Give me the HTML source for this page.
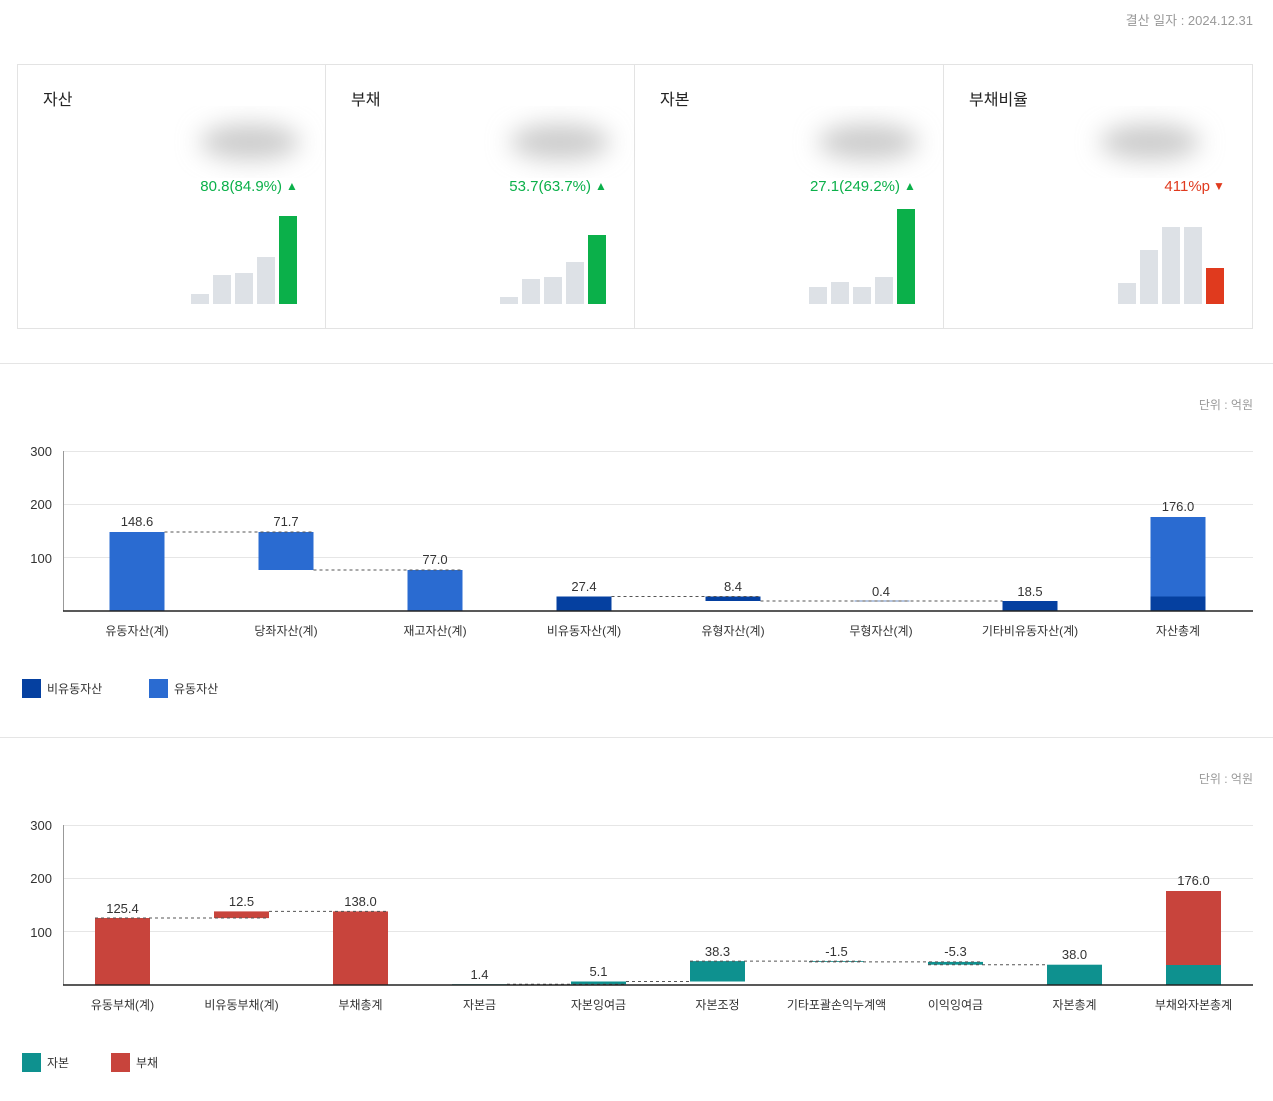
<!DOCTYPE html>
<html><head><meta charset="utf-8"><style>
body{margin:0;background:#fff;width:1273px;height:1096px;overflow:hidden;font-family:"Liberation Sans","Noto Sans CJK KR",sans-serif;}
svg text{font-family:"Liberation Sans","Noto Sans CJK KR",sans-serif;}
</style></head><body>
<svg width="1273" height="1096" viewBox="0 0 1273 1096" xmlns="http://www.w3.org/2000/svg">
<defs><filter id="b" x="-50%" y="-50%" width="200%" height="200%"><feGaussianBlur stdDeviation="12"/></filter></defs>
<text x="1253" y="25" font-size="13" fill="#999" text-anchor="end">결산 일자 : 2024.12.31</text>
<!-- cards -->
<rect x="17.5" y="64.5" width="1235" height="264" fill="none" stroke="#e3e3e3"/>
<line x1="325.5" y1="64" x2="325.5" y2="328" stroke="#e3e3e3"/>
<line x1="634.5" y1="64" x2="634.5" y2="328" stroke="#e3e3e3"/>
<line x1="943.5" y1="64" x2="943.5" y2="328" stroke="#e3e3e3"/>
<g font-size="16" fill="#222">
<text x="43" y="105">자산</text><text x="351" y="105">부채</text><text x="660" y="105">자본</text><text x="969" y="105">부채비율</text></g>
<g fill="#ccc" filter="url(#b)">
<ellipse cx="250" cy="142" rx="50" ry="18"/><ellipse cx="560" cy="142" rx="50" ry="18"/><ellipse cx="868" cy="142" rx="50" ry="18"/><ellipse cx="1150" cy="142" rx="50" ry="18"/></g>
<g font-size="15">
<text x="282" y="191" fill="#0bb04a" text-anchor="end">80.8(84.9%)</text><text x="292" y="190" fill="#0bb04a" text-anchor="middle" font-size="12">▲</text>
<text x="591" y="191" fill="#0bb04a" text-anchor="end">53.7(63.7%)</text><text x="601" y="190" fill="#0bb04a" text-anchor="middle" font-size="12">▲</text>
<text x="900" y="191" fill="#0bb04a" text-anchor="end">27.1(249.2%)</text><text x="910" y="190" fill="#0bb04a" text-anchor="middle" font-size="12">▲</text>
<text x="1210" y="191" fill="#e03a1e" text-anchor="end">411%p</text><text x="1219" y="190" fill="#e03a1e" text-anchor="middle" font-size="12">▼</text>
</g>
<g fill="#dde1e6">
<rect x="191" y="294" width="18" height="10"/><rect x="213" y="275" width="18" height="29"/><rect x="235" y="273" width="18" height="31"/><rect x="257" y="257" width="18" height="47"/>
<rect x="500" y="297" width="18" height="7"/><rect x="522" y="279" width="18" height="25"/><rect x="544" y="277" width="18" height="27"/><rect x="566" y="262" width="18" height="42"/>
<rect x="809" y="287" width="18" height="17"/><rect x="831" y="282" width="18" height="22"/><rect x="853" y="287" width="18" height="17"/><rect x="875" y="277" width="18" height="27"/>
<rect x="1118" y="283" width="18" height="21"/><rect x="1140" y="250" width="18" height="54"/><rect x="1162" y="227" width="18" height="77"/><rect x="1184" y="227" width="18" height="77"/>
</g>
<rect x="279" y="216" width="18" height="88" fill="#0bb04a"/>
<rect x="588" y="235" width="18" height="69" fill="#0bb04a"/>
<rect x="897" y="209" width="18" height="95" fill="#0bb04a"/>
<rect x="1206" y="268" width="18" height="36" fill="#e03a1e"/>
<line x1="0" y1="363.5" x2="1273" y2="363.5" stroke="#e5e5e5"/>
<line x1="0" y1="737.5" x2="1273" y2="737.5" stroke="#e5e5e5"/>

<!-- chart 1 -->
<text x="1253" y="409" font-size="12" fill="#999" text-anchor="end">단위 : 억원</text>
<g stroke="#e6e6e6"><line x1="63" y1="451.5" x2="1253" y2="451.5"/><line x1="63" y1="504.5" x2="1253" y2="504.5"/><line x1="63" y1="557.5" x2="1253" y2="557.5"/></g>
<line x1="63.5" y1="451" x2="63.5" y2="611" stroke="#999"/>
<g font-size="13" fill="#333" text-anchor="end"><text x="52" y="456">300</text><text x="52" y="509">200</text><text x="52" y="563">100</text></g>
<g fill="#2a6bd1">
<rect x="109.5" y="532" width="55" height="79"/>
<rect x="258.5" y="532" width="55" height="38"/>
<rect x="407.5" y="570" width="55" height="41"/>
<rect x="1150.5" y="517" width="55" height="79.5"/>
</g>
<g fill="#0540a0">
<rect x="556.5" y="596.5" width="55" height="14.5"/>
<rect x="705.5" y="596.5" width="55" height="4.5"/>
<rect x="854.5" y="600.7" width="55" height="0.6"/>
<rect x="1002.5" y="601" width="55" height="10"/>
<rect x="1150.5" y="596.5" width="55" height="14.5"/>
</g>
<g stroke="#555" stroke-dasharray="3,3" fill="none">
<line x1="164.5" y1="532" x2="313.5" y2="532"/><line x1="313.5" y1="570" x2="462.5" y2="570"/><line x1="462.5" y1="611" x2="556.5" y2="611"/>
<line x1="611.5" y1="596.5" x2="760.5" y2="596.5"/><line x1="760.5" y1="601" x2="1002.5" y2="601"/>
</g>
<line x1="63" y1="611" x2="1253" y2="611" stroke="#222" stroke-width="1.5"/>
<g font-size="13" fill="#333" text-anchor="middle">
<text x="137" y="526">148.6</text><text x="286" y="526">71.7</text><text x="435" y="564">77.0</text><text x="584" y="591">27.4</text><text x="733" y="591">8.4</text><text x="881" y="596">0.4</text><text x="1030" y="596">18.5</text><text x="1178" y="511">176.0</text>
</g>
<g font-size="12" fill="#333" text-anchor="middle">
<text x="137" y="635">유동자산(계)</text><text x="286" y="635">당좌자산(계)</text><text x="435" y="635">재고자산(계)</text><text x="584" y="635">비유동자산(계)</text><text x="733" y="635">유형자산(계)</text><text x="881" y="635">무형자산(계)</text><text x="1030" y="635">기타비유동자산(계)</text><text x="1178" y="635">자산총계</text>
</g>
<rect x="22" y="679" width="19" height="19" fill="#0540a0"/><text x="47" y="693" font-size="12" fill="#333">비유동자산</text>
<rect x="149" y="679" width="19" height="19" fill="#2a6bd1"/><text x="174" y="693" font-size="12" fill="#333">유동자산</text>

<!-- chart 2 -->
<text x="1253" y="783" font-size="12" fill="#999" text-anchor="end">단위 : 억원</text>
<g stroke="#e6e6e6"><line x1="63" y1="825.5" x2="1253" y2="825.5"/><line x1="63" y1="878.5" x2="1253" y2="878.5"/><line x1="63" y1="931.5" x2="1253" y2="931.5"/></g>
<line x1="63.5" y1="825" x2="63.5" y2="985" stroke="#999"/>
<g font-size="13" fill="#333" text-anchor="end"><text x="52" y="830">300</text><text x="52" y="883">200</text><text x="52" y="937">100</text></g>
<g fill="#c8443c">
<rect x="95" y="918" width="55" height="67"/>
<rect x="214" y="911.4" width="55" height="6.7"/>
<rect x="333" y="911.4" width="55" height="73.6"/>
<rect x="1166" y="891" width="55" height="74"/>
</g>
<g fill="#0e918f">
<rect x="452" y="984.2" width="55" height="0.8"/>
<rect x="571" y="981.5" width="55" height="2.8"/>
<rect x="690" y="961.1" width="55" height="20.4"/>
<rect x="809" y="961.1" width="55" height="0.8"/>
<rect x="928" y="961.9" width="55" height="2.8"/>
<rect x="1047" y="964.7" width="55" height="20.3"/>
<rect x="1166" y="965" width="55" height="20"/>
</g>
<g stroke="#555" stroke-dasharray="3,3" fill="none">
<line x1="95" y1="918" x2="269" y2="918"/><line x1="269" y1="911.4" x2="388" y2="911.4"/><line x1="388" y1="985" x2="452" y2="985"/>
<line x1="507" y1="984.2" x2="626" y2="984.2"/><line x1="626" y1="981.5" x2="690" y2="981.5"/><line x1="690" y1="961.1" x2="864" y2="961.1"/>
<line x1="809" y1="961.9" x2="983" y2="961.9"/><line x1="928" y1="964.7" x2="1047" y2="964.7"/>
</g>
<line x1="63" y1="985" x2="1253" y2="985" stroke="#222" stroke-width="1.5"/>
<g font-size="13" fill="#333" text-anchor="middle">
<text x="122.5" y="913">125.4</text><text x="241.5" y="906">12.5</text><text x="360.5" y="906">138.0</text><text x="479.5" y="979">1.4</text><text x="598.5" y="976">5.1</text><text x="717.5" y="956">38.3</text><text x="836.5" y="956">-1.5</text><text x="955.5" y="956">-5.3</text><text x="1074.5" y="959">38.0</text><text x="1193.5" y="885">176.0</text>
</g>
<g font-size="12" fill="#333" text-anchor="middle">
<text x="122.5" y="1009">유동부채(계)</text><text x="241.5" y="1009">비유동부채(계)</text><text x="360.5" y="1009">부채총계</text><text x="479.5" y="1009">자본금</text><text x="598.5" y="1009">자본잉여금</text><text x="717.5" y="1009">자본조정</text><text x="836.5" y="1009">기타포괄손익누계액</text><text x="955.5" y="1009">이익잉여금</text><text x="1074.5" y="1009">자본총계</text><text x="1193.5" y="1009">부채와자본총계</text>
</g>
<rect x="22" y="1053" width="19" height="19" fill="#0e918f"/><text x="47" y="1067" font-size="12" fill="#333">자본</text>
<rect x="111" y="1053" width="19" height="19" fill="#c8443c"/><text x="136" y="1067" font-size="12" fill="#333">부채</text>
</svg>
</body></html>
